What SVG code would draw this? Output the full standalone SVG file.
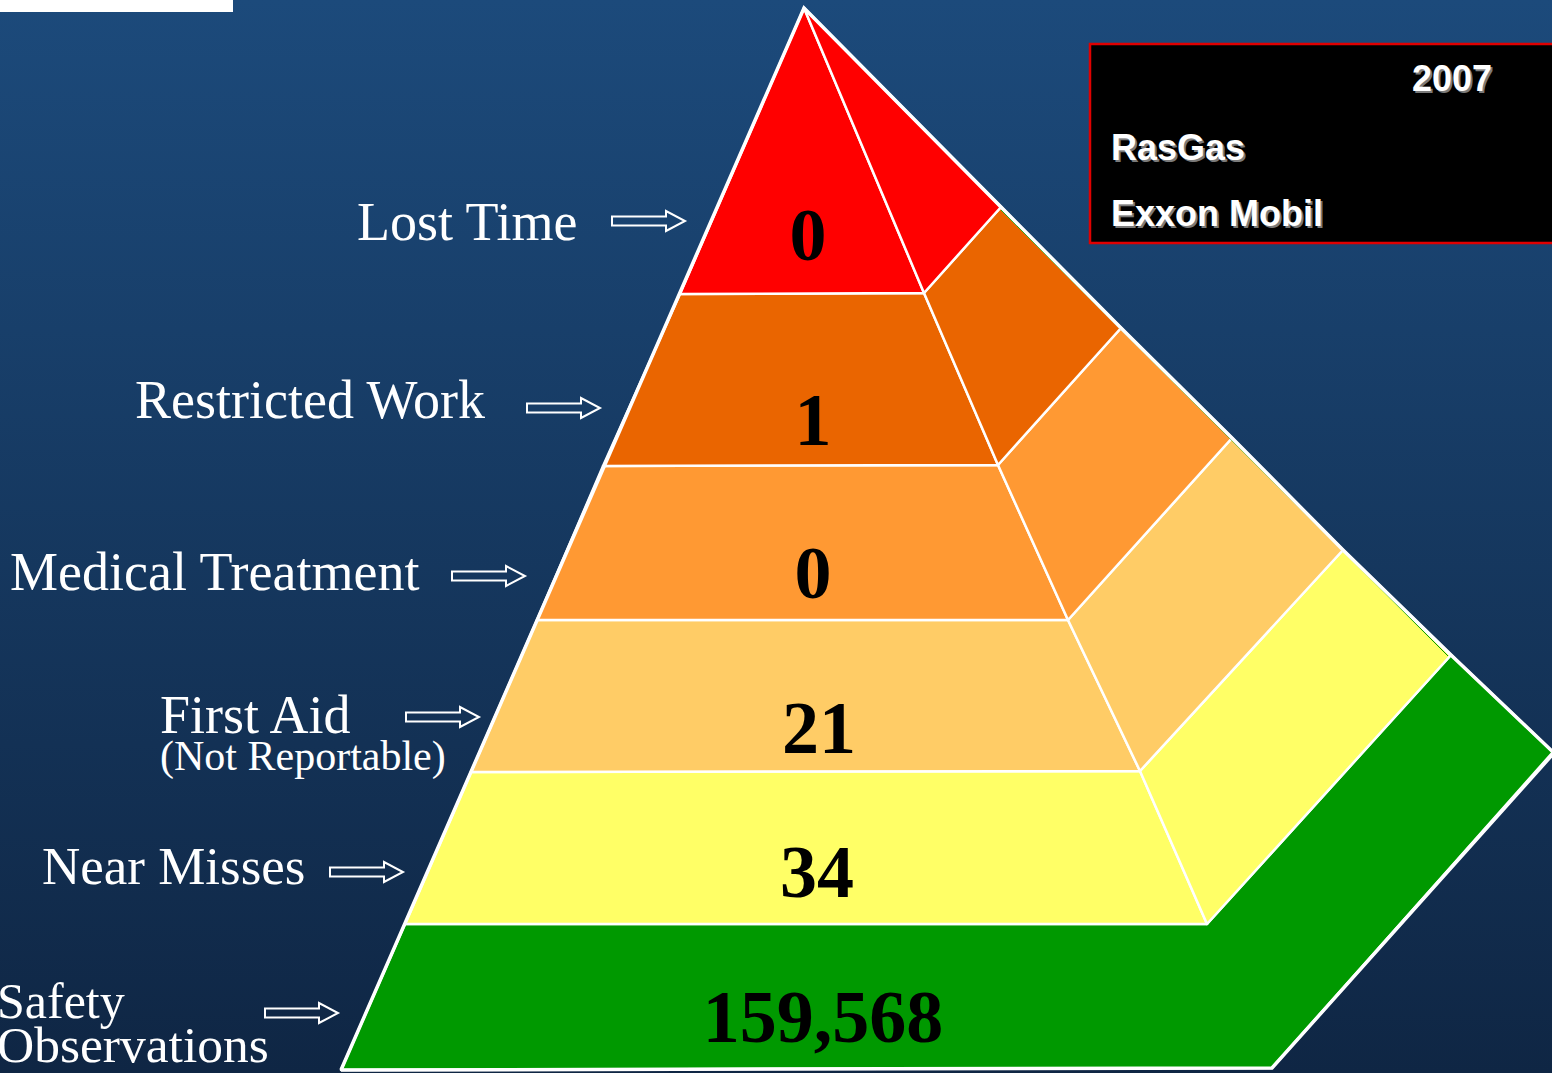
<svg xmlns="http://www.w3.org/2000/svg" width="1552" height="1073" viewBox="0 0 1552 1073">
<defs>
<linearGradient id="bg" x1="0" y1="0" x2="0" y2="1">
<stop offset="0" stop-color="#1c4a7b"/>
<stop offset="1" stop-color="#0f2644"/>
</linearGradient>
<path id="arr" d="M0,-4.5 H54 V-10 L73,0 L54,10 V4.5 H0 Z"/>
</defs>
<style>
.seg{stroke:#fff;stroke-width:2.5;stroke-linejoin:round}
.lbl{font-family:"Liberation Serif","Times New Roman",serif;fill:#fff;font-size:54px}
.num{font-family:"Liberation Serif","Times New Roman",serif;font-weight:bold;fill:#000;font-size:74px;text-anchor:middle}
.arrow{fill:none;stroke:#fff;stroke-width:2}
.lg{font-family:"Liberation Sans",Arial,sans-serif;font-weight:bold;font-size:36px;fill:#fff}
.lgs{font-family:"Liberation Sans",Arial,sans-serif;font-weight:bold;font-size:36px;fill:#7a7a7a}
</style>
<rect x="0" y="0" width="1552" height="1073" fill="url(#bg)"/>
<rect x="0" y="0" width="233" height="12" fill="#fff"/>

<g id="pyramid">
<g id="level-safety">
<polygon class="seg" fill="#009900" points="405,924 1207,924 1451,655 1553,752 1272,1068 341,1070"/>
</g>
<g id="level-near-misses">
<polygon class="seg" fill="#ffff66" points="471,772 1140,771 1207,924 405,924"/>
<polygon class="seg" fill="#ffff66" points="1343,550 1451,655 1207,924 1140,771"/>
</g>
<g id="level-first-aid">
<polygon class="seg" fill="#ffcc66" points="537,620 1068,620 1140,771 471,772"/>
<polygon class="seg" fill="#ffcc66" points="1232,438 1343,550 1140,771 1068,620"/>
</g>
<g id="level-medical">
<polygon class="seg" fill="#ff9933" points="603,466 998,465 1068,620 537,620"/>
<polygon class="seg" fill="#ff9933" points="1121,328 1232,438 1068,620 998,465"/>
</g>
<g id="level-restricted">
<polygon class="seg" fill="#ea6500" points="680,294 924,293 998,465 603,466"/>
<polygon class="seg" fill="#ea6500" points="1001,207 1121,328 998,465 924,293"/>
</g>
<g id="level-lost-time">
<polygon class="seg" fill="#ff0000" points="804,8 924,293 680,294"/>
<polygon class="seg" fill="#ff0000" points="804,8 1001,207 924,293"/>
</g>
<line x1="1001" y1="210" x2="1448" y2="656" stroke="#009900" stroke-width="1"/>
<polyline points="341,1070 804,8 1001,207 1121,328 1232,438 1343,550 1451,655 1553,752" fill="none" stroke="#fff" stroke-width="3.5" stroke-linejoin="miter"/>
<polyline points="1553,754 1272,1068 341,1070" fill="none" stroke="#fff" stroke-width="3.5"/>

<text class="num" x="808" y="260">0</text>
<text class="num" x="813" y="445">1</text>
<text class="num" x="813" y="598">0</text>
<text class="num" x="819" y="753">21</text>
<text class="num" x="817" y="897">34</text>
<text class="num" x="823" y="1042">159,568</text>
</g>

<g id="labels">
<text class="lbl" x="357" y="240">Lost Time</text>
<text class="lbl" x="135" y="418">Restricted Work</text>
<text class="lbl" x="10" y="590">Medical Treatment</text>
<text class="lbl" x="160" y="733">First Aid</text>
<text class="lbl" x="160" y="770" style="font-size:42px">(Not Reportable)</text>
<text class="lbl" x="42" y="884" style="font-size:53px">Near Misses</text>
<text class="lbl" x="-3" y="1018" style="font-size:50px">Safety</text>
<text class="lbl" x="-3" y="1062" style="font-size:51.5px">Observations</text>
</g>

<g id="connectors">
<use href="#arr" class="arrow" transform="translate(612,221)"/>
<use href="#arr" class="arrow" transform="translate(527,408)"/>
<use href="#arr" class="arrow" transform="translate(452,576)"/>
<use href="#arr" class="arrow" transform="translate(406,717)"/>
<use href="#arr" class="arrow" transform="translate(330,872)"/>
<use href="#arr" class="arrow" transform="translate(265,1013)"/>
</g>

<g id="legend">
<rect x="1090" y="44" width="470" height="199" fill="#000" stroke="#e00000" stroke-width="2.5"/>
<text class="lgs" x="1494" y="93" text-anchor="end">2007</text>
<text class="lg" x="1492" y="91" text-anchor="end">2007</text>
<text class="lgs" x="1113" y="162">RasGas</text>
<text class="lg" x="1111" y="160">RasGas</text>
<text class="lgs" x="1113" y="228">Exxon Mobil</text>
<text class="lg" x="1111" y="226">Exxon Mobil</text>
</g>
</svg>
